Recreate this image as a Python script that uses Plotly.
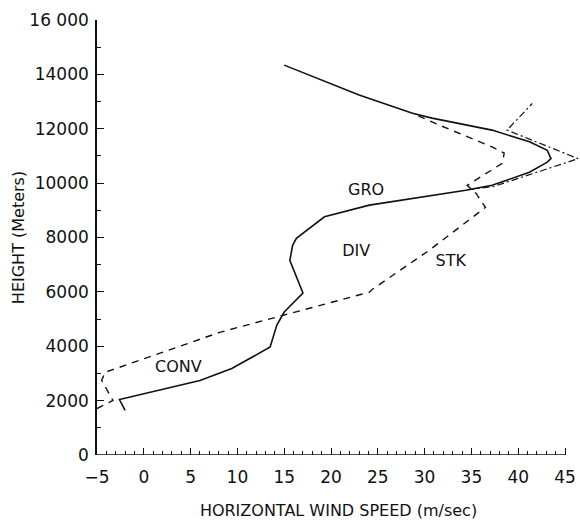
import plotly.graph_objects as go

# ---- data ----
gro_speed = [-2.0, -2.6, 6.0, 9.4, 13.5, 14.2, 15.0, 17.0, 15.6, 15.9, 16.3, 19.3, 24.1,
             34.4, 37.2, 41.2, 43.1, 43.5, 43.1, 41.2, 37.2, 30.8, 28.7, 23.0, 15.0]
gro_height = [1640, 2040, 2740, 3180, 3970, 4770, 5260, 5960, 7160, 7710, 7970, 8760, 9190,
              9740, 9920, 10400, 10770, 10900, 11210, 11520, 11950, 12390, 12570, 13240, 14340]

stk_speed = [-5.0, -3.3, -4.5, -4.15, 8.1, 24.1, 24.4, 30.5, 36.5, 35.5, 34.55, 38.3, 38.5,
             37.2, 31.6, 28.7]
stk_height = [1710, 2010, 2740, 3040, 4510, 5990, 6090, 7530, 9110, 9620, 9920, 10730, 11100,
              11330, 12130, 12570]

dd_speed = [34.6, 37.4, 46.4, 38.8, 41.5]
dd_height = [9760, 9880, 10900, 11950, 12930]

x_tickvals = [-5, 0, 5, 10, 15, 20, 25, 30, 35, 40, 45]
x_ticktext = ["\u22125", "0", "5", "10", "15", "20", "25", "30", "35", "40", "45"]
y_tickvals = [0, 2000, 4000, 6000, 8000, 10000, 12000, 14000, 16000]
y_ticktext = ["0", "2000", "4000", "6000", "8000", "10000", "12000", "14000", "16 000"]

labels = ["CONV", "DIV", "GRO", "STK"]
label_x = [3.7, 22.7, 23.75, 32.8]
label_y = [3200, 7460, 9710, 7100]

FONT = "DejaVu Sans, Liberation Sans, sans-serif"
INK = "#111111"
FS = 17

fig = go.Figure()
fig.add_trace(go.Scatter(x=gro_speed, y=gro_height, mode="lines", name="GRO",
                         line=dict(color=INK, width=1.6)))
fig.add_trace(go.Scatter(x=stk_speed, y=stk_height, mode="lines", name="STK",
                         line=dict(color=INK, width=1.4, dash="7px,6px")))
fig.add_trace(go.Scatter(x=dd_speed, y=dd_height, mode="lines", name="other",
                         line=dict(color=INK, width=1.2, dash="7px,3px,2px,3px")))
fig.add_trace(go.Scatter(x=label_x, y=label_y, mode="text", text=labels,
                         textfont=dict(family=FONT, size=FS - 1, color=INK),
                         showlegend=False, hoverinfo="skip"))

# x axis line only spans -5..45 as in the reference
fig.add_shape(type="line", xref="x", yref="y", x0=-5, x1=45, y0=0, y1=0,
              line=dict(color=INK, width=1.6))

fig.update_layout(
    width=580, height=522,
    margin=dict(l=97, r=0, t=20, b=67),
    paper_bgcolor="white", plot_bgcolor="white",
    showlegend=False,
    font=dict(family=FONT, size=FS, color=INK),
    xaxis=dict(
        range=[-5, 46.6], showgrid=False, zeroline=False, showline=False,
        tickmode="array", tickvals=x_tickvals, ticktext=x_ticktext,
        ticks="inside", ticklen=7, tickwidth=1.3, tickcolor=INK,
        minor=dict(tickmode="array", tickvals=list(range(-5, 46)),
                   ticks="inside", ticklen=4, tickwidth=1, tickcolor=INK),
        ticklabelstandoff=10,
        title=dict(text="HORIZONTAL WIND SPEED (m/sec)", standoff=18,
                   font=dict(family=FONT, size=FS - 1, color=INK)),
    ),
    yaxis=dict(
        range=[0, 16000], showgrid=False, zeroline=False,
        showline=True, linecolor=INK, linewidth=1.6,
        tickmode="array", tickvals=y_tickvals, ticktext=y_ticktext,
        ticks="inside", ticklen=7, tickwidth=1.3, tickcolor=INK,
        minor=dict(tickmode="array", tickvals=list(range(1000, 16000, 2000)),
                   ticks="inside", ticklen=4, tickwidth=1, tickcolor=INK),
        ticklabelstandoff=3,
        title=dict(text="HEIGHT (Meters)", standoff=1,
                   font=dict(family=FONT, size=FS - 1, color=INK)),
    ),
)

fig.write_html("out.html",
               config={"displayModeBar": False},
               post_script="document.body.style.margin='0';document.body.style.overflow='hidden';")
